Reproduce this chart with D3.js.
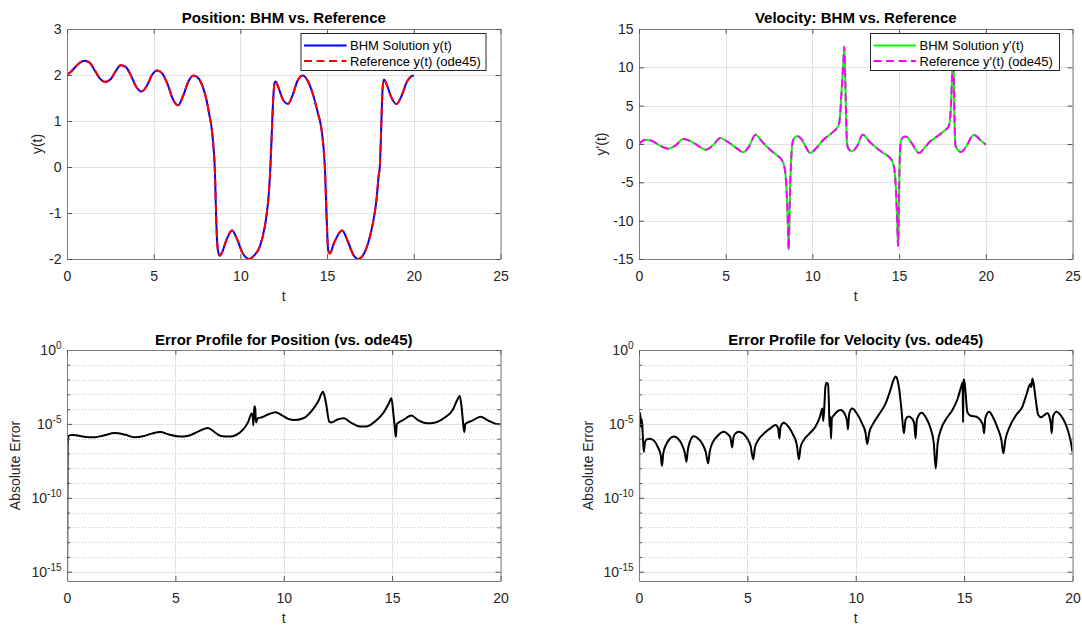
<!DOCTYPE html>
<html>
<head>
<meta charset="utf-8">
<script src="https://cdn.jsdelivr.net/npm/d3@7"></script>
<style>
body { margin: 0; background: #fff; }
svg text { font-family: "Liberation Sans", Arial, Helvetica, sans-serif; }
</style>
</head>
<body>
<svg id="chart" width="1082" height="626"></svg>
<script>
// ---- data ----
// position y(t) (BHM and ode45 overlap at this scale)
var posT = [0, 0.25, 0.5, 0.75, 1.0, 1.3, 1.6, 1.9, 2.2, 2.5, 2.8, 3.1, 3.4, 3.7, 4.0, 4.3, 4.6, 4.9, 5.2, 5.5,
	5.8, 6.1, 6.4, 6.7, 7.0, 7.3, 7.6, 7.85, 8.05, 8.2, 8.33, 8.46, 8.52, 8.56, 8.6, 8.7, 8.81, 8.95, 9.2, 9.52,
	9.8, 10.1, 10.5, 10.8, 11.12, 11.41, 11.5, 11.64, 11.73, 11.81, 11.89, 11.97, 12.03, 12.2, 12.45, 12.75, 13.0, 13.3, 13.6, 13.9,
	14.2, 14.45, 14.68, 14.8, 14.87, 14.97, 15.06, 15.16, 15.4, 15.87, 16.2, 16.5, 16.79, 17.1, 17.47, 17.7, 17.85, 17.97, 18.04, 18.1,
	18.14, 18.2, 18.27, 18.45, 18.7, 19.0, 19.3, 19.6, 19.85, 20.0];
var posY = [2.00, 2.08, 2.18, 2.27, 2.31, 2.27, 2.10, 1.92, 1.85, 1.90, 2.08, 2.21, 2.17, 1.98, 1.74, 1.64, 1.76, 2.00, 2.10, 2.03,
	1.80, 1.48, 1.34, 1.55, 1.86, 1.99, 1.92, 1.72, 1.45, 1.15, 0.88, 0.38, 0.0, -0.49, -1.07, -1.80, -1.93, -1.85, -1.58, -1.38,
	-1.56, -1.85, -2.00, -1.92, -1.73, -1.29, -1.07, -0.57, 0.0, 0.74, 1.46, 1.83, 1.86, 1.72, 1.47, 1.37, 1.55, 1.88, 1.99, 1.86,
	1.56, 1.20, 0.81, 0.40, 0.0, -1.07, -1.80, -1.88, -1.65, -1.38, -1.62, -1.90, -2.00, -1.90, -1.51, -1.10, -0.71, -0.20, 0.01, 0.60,
	1.10, 1.70, 1.90, 1.78, 1.52, 1.37, 1.55, 1.85, 1.97, 1.99];

// velocity y'(t)
var velT = [0, 0.2, 0.44, 0.8, 1.2, 1.69, 2.1, 2.56, 3.0, 3.4, 3.87, 4.3, 4.68, 5.1, 5.6, 6.02, 6.35, 6.72, 7.1, 7.56,
	8.0, 8.22, 8.35, 8.45, 8.52, 8.58, 8.63, 8.67, 8.71, 8.76, 8.85, 9.0, 9.15, 9.35, 9.6, 9.87, 10.2, 10.64, 11.0, 11.22,
	11.45, 11.55, 11.62, 11.7, 11.78, 11.84, 11.9, 11.95, 12.0, 12.1, 12.28, 12.6, 12.9, 13.3, 13.7, 14.1, 14.49, 14.65, 14.74, 14.82,
	14.89, 14.94, 14.98, 15.02, 15.08, 15.2, 15.39, 15.7, 16.15, 16.5, 16.8, 17.2, 17.57, 17.86, 17.95, 18.0, 18.06, 18.11, 18.16, 18.2,
	18.26, 18.57, 18.9, 19.3, 19.65, 20.0];
var velY = [0.0, 0.4, 0.56, 0.35, -0.2, -0.61, -0.2, 0.65, 0.35, -0.2, -0.74, -0.1, 0.78, 0.3, -0.5, -1.09, -0.3, 1.22, 0.3, -0.74,
	-1.55, -2.05, -2.7, -4.0, -6.5, -10.0, -13.8, -10.5, -6.0, -2.9, 0.13, 0.9, 1.0, 0.7, -0.3, -1.17, -0.6, 0.56, 1.2, 1.65,
	2.2, 2.8, 4.5, 7.5, 10.5, 12.7, 8.0, 3.0, 0.0, -0.7, -0.96, -0.2, 1.22, 0.3, -0.52, -1.2, -1.83, -2.5, -3.5, -6.0,
	-10.0, -13.3, -9.0, -3.5, 0.0, 0.8, 0.99, 0.2, -1.17, -0.4, 0.35, 1.0, 1.65, 2.3, 3.5, 5.5, 9.0, 12.5, 8.0, 2.5,
	-0.3, -1.04, -0.2, 1.22, 0.6, -0.1];

// log10 of absolute position error
var posErrT = [0, 0.03, 0.06, 0.15, 0.3, 0.6, 1.0, 1.3, 1.7, 2.2, 2.7, 3.1, 3.5, 3.9, 4.3, 4.7, 5.2, 5.6, 6.0, 6.5,
	6.8, 7.1, 7.5, 7.8, 8.1, 8.35, 8.52, 8.57, 8.6, 8.64, 8.68, 8.72, 8.8, 9.0, 9.3, 9.63, 9.9, 10.2, 10.5, 10.9,
	11.3, 11.6, 11.81, 11.95, 12.1, 12.2, 12.45, 12.77, 13.1, 13.5, 13.8, 14.2, 14.6, 14.85, 14.97, 15.05, 15.12, 15.17, 15.22, 15.5,
	15.89, 16.2, 16.6, 17.0, 17.4, 17.8, 18.0, 18.12, 18.2, 18.28, 18.33, 18.38, 18.7, 19.08, 19.4, 19.75, 20.0];
var posErrExp = [-17, -6.5, -5.85, -5.76, -5.75, -5.82, -5.9, -5.9, -5.78, -5.62, -5.74, -5.9, -5.84, -5.66, -5.55, -5.72, -5.86, -5.8, -5.56, -5.27,
	-5.55, -5.82, -5.86, -5.75, -5.42, -4.9, -4.3, -4.55, -5.1, -3.8, -3.9, -4.9, -4.62, -4.55, -4.35, -4.22, -4.4, -4.66, -4.74, -4.62,
	-4.1, -3.45, -2.82, -3.6, -4.85, -4.9, -4.72, -4.62, -4.92, -5.17, -5.18, -4.85, -4.25, -3.6, -3.27, -4.2, -5.2, -5.87, -5.0, -4.75,
	-4.44, -4.75, -4.96, -4.9, -4.6, -4.05, -3.4, -3.11, -3.8, -5.0, -5.55, -5.0, -4.78, -4.51, -4.75, -4.98, -5.03];

// log10 of absolute velocity error
var velErrT = [0, 0.01, 0.04, 0.07, 0.1, 0.13, 0.17, 0.22, 0.27, 0.35, 0.5, 0.7, 0.88, 1.0, 1.06, 1.12, 1.25, 1.4, 1.6, 1.8,
	1.98, 2.12, 2.19, 2.25, 2.35, 2.52, 2.7, 2.9, 3.08, 3.19, 3.26, 3.4, 3.6, 3.91, 4.1, 4.22, 4.3, 4.36, 4.45, 4.6,
	4.8, 5.0, 5.15, 5.27, 5.35, 5.5, 5.8, 6.1, 6.3, 6.42, 6.48, 6.53, 6.68, 6.9, 7.1, 7.28, 7.38, 7.45, 7.6, 7.9,
	8.14, 8.35, 8.46, 8.5, 8.55, 8.6, 8.65, 8.72, 8.76, 8.79, 8.82, 8.86, 8.9, 9.0, 9.15, 9.3, 9.5, 9.6, 9.64, 9.7,
	9.84, 10.05, 10.3, 10.45, 10.53, 10.62, 10.8, 11.1, 11.38, 11.6, 11.75, 11.84, 11.92, 12.0, 12.12, 12.22, 12.3, 12.45, 12.6, 12.7,
	12.76, 12.82, 13.04, 13.25, 13.45, 13.6, 13.69, 13.78, 13.95, 14.2, 14.46, 14.7, 14.88, 14.93, 14.95, 14.97, 15.0, 15.05, 15.15, 15.3,
	15.55, 15.75, 15.87, 15.92, 15.98, 16.15, 16.35, 16.55, 16.72, 16.81, 16.9, 17.1, 17.4, 17.69, 17.9, 18.05, 18.1, 18.15, 18.22, 18.3,
	18.42, 18.55, 18.7, 18.84, 18.95, 19.0, 19.04, 19.1, 19.26, 19.45, 19.65, 19.8, 19.92, 20.0];
var velErrExp = [-17, -4.3, -4.25, -4.6, -5.2, -4.7, -5.6, -6.9, -6.3, -6.05, -6.0, -6.15, -6.6, -7.1, -7.85, -7.0, -6.4, -6.05, -5.86, -6.0,
	-6.4, -7.0, -7.56, -6.8, -6.2, -5.84, -5.95, -6.3, -6.9, -7.67, -6.9, -6.25, -5.85, -5.53, -5.7, -5.95, -6.59, -5.9, -5.65, -5.53,
	-5.65, -6.0, -6.5, -7.4, -6.6, -6.1, -5.6, -5.25, -5.07, -5.3, -5.98, -5.2, -4.92, -5.2, -5.7, -6.4, -7.4, -6.6, -6.1, -5.6,
	-5.19, -4.5, -3.95, -4.8, -3.8, -2.5, -2.21, -2.3, -3.5, -5.19, -4.5, -6.0, -4.6, -4.4, -4.15, -4.06, -4.35, -4.8, -5.37, -4.3,
	-3.95, -4.3, -5.0, -5.6, -6.36, -5.6, -5.0, -4.3, -3.61, -2.7, -2.0, -1.8, -2.0, -2.6, -4.2, -5.64, -4.7, -4.5, -4.65, -5.0,
	-5.98, -4.7, -4.24, -4.6, -5.3, -6.3, -8.01, -6.3, -5.3, -4.6, -4.06, -3.3, -2.4, -2.2, -4.9, -2.1, -2.0, -2.6, -4.2, -4.45,
	-4.5, -4.75, -5.1, -5.64, -4.6, -4.17, -4.6, -5.3, -6.1, -6.99, -6.1, -5.2, -4.4, -3.83, -2.9, -2.3, -2.5, -1.92, -2.4, -3.3,
	-4.4, -4.55, -4.4, -4.28, -4.6, -5.0, -5.64, -4.5, -4.17, -4.4, -4.9, -5.5, -6.2, -6.9];

// ticks and labels
var xTicksTop = [0, 5, 10, 15, 20, 25];
var xTicksBottom = [0, 5, 10, 15, 20];
var yTicksPos = [-2, -1, 0, 1, 2, 3];
var yTicksVel = [-15, -10, -5, 0, 5, 10, 15];
var logMajor = [1e-15, 1e-10, 1e-5, 1];
var logMinor = [1e-14, 1e-13, 1e-12, 1e-11, 1e-9, 1e-8, 1e-7, 1e-6, 1e-4, 1e-3, 1e-2, 1e-1];
var posLegend = ["BHM Solution y(t)", "Reference y(t) (ode45)"];
var velLegend = ["BHM Solution y'(t)", "Reference y'(t) (ode45)"];

var svg = d3.select("#chart");
var boxColor = "#808080";
var textColor = "#262626";

function panel(o) {
	var g = svg.append("g").attr("transform", `translate(${o.x},${o.y})`);
	var xScale = d3.scaleLinear().domain(o.xDomain).range([0, o.w]);
	var yScale = (o.log ? d3.scaleLog() : d3.scaleLinear()).domain(o.yDomain).range([o.h, 0]);

	g.append("clipPath").attr("id", "clip" + o.id)
		.append("rect").attr("width", o.w).attr("height", o.h);

	// minor grid (log panels)
	if (o.minor) {
		g.selectAll(".mgrid").data(o.minor).enter().append("line")
			.attr("x1", 0).attr("x2", o.w)
			.attr("y1", d => Math.round(yScale(d)) + 0.5).attr("y2", d => Math.round(yScale(d)) + 0.5)
			.attr("stroke", "#c4c4c4").attr("stroke-width", 1).attr("stroke-dasharray", "1,2");
	}
	// major grid
	g.selectAll(".gx").data(o.xTicks).enter().append("line")
		.attr("x1", d => Math.round(xScale(d)) + 0.5).attr("x2", d => Math.round(xScale(d)) + 0.5)
		.attr("y1", 0).attr("y2", o.h)
		.attr("stroke", "#e3e3e3");
	g.selectAll(".gy").data(o.yTicks).enter().append("line")
		.attr("x1", 0).attr("x2", o.w)
		.attr("y1", d => Math.round(yScale(d)) + 0.5).attr("y2", d => Math.round(yScale(d)) + 0.5)
		.attr("stroke", "#e3e3e3");

	// data lines
	o.series.forEach(function (s) {
		var line = d3.line()
			.x(d => xScale(d[0]))
			.y(d => yScale(o.log ? Math.pow(10, d[1]) : d[1]))
			.curve(d3.curveMonotoneX);
		g.append("path")
			.datum(d3.zip(s.t, s.v))
			.attr("clip-path", `url(#clip${o.id})`)
			.attr("fill", "none")
			.attr("stroke", s.color)
			.attr("stroke-width", s.width || 2)
			.attr("stroke-dasharray", s.dash || null)
			.attr("stroke-linejoin", "round")
			.attr("d", line);
	});

	// axes, ticks pointing inward on all four sides
	var xAxis = d3.axisBottom(xScale).tickValues(o.xTicks).tickSize(-5).tickSizeOuter(0).tickPadding(12.5)
		.tickFormat(d => d);
	var yAxis = d3.axisLeft(yScale).tickValues(o.yTicks).tickSize(-5).tickSizeOuter(0).tickPadding(5.5)
		.tickFormat(d => o.log ? "" : d);

	var gx = g.append("g").attr("transform", `translate(0,${o.h})`).call(xAxis);
	var gy = g.append("g").call(yAxis);
	var gt = g.append("g").call(d3.axisTop(xScale).tickValues(o.xTicks).tickSize(-5).tickSizeOuter(0).tickFormat(""));
	var gr = g.append("g").attr("transform", `translate(${o.w},0)`)
		.call(d3.axisRight(yScale).tickValues(o.yTicks).tickSize(-5).tickSizeOuter(0).tickFormat(""));

	if (o.minor) {
		g.append("g").call(d3.axisLeft(yScale).tickValues(o.minor).tickSize(-3).tickSizeOuter(0).tickFormat(""))
			.call(a => a.select(".domain").remove());
		g.append("g").attr("transform", `translate(${o.w},0)`)
			.call(d3.axisRight(yScale).tickValues(o.minor).tickSize(-3).tickSizeOuter(0).tickFormat(""))
			.call(a => a.select(".domain").remove());
	}

	[gx, gy, gt, gr].forEach(function (a) {
		a.attr("font-size", 14).attr("font-family", null);
		a.select(".domain").attr("stroke", boxColor);
		a.selectAll(".tick text").attr("fill", textColor);
	});
	g.selectAll(".tick line").attr("stroke", "#555");

	if (o.log) {
		gy.selectAll(".tick text")
			.each(function (d) {
				var t = d3.select(this);
				t.append("tspan").text("10");
				t.append("tspan").attr("dy", "-0.55em").attr("font-size", 10)
					.text(Math.round(Math.log10(d)));
			});
	}

	// title and labels
	g.append("text")
		.attr("x", o.w / 2).attr("y", o.titleY)
		.attr("text-anchor", "middle")
		.attr("font-size", 15).attr("font-weight", "bold")
		.attr("fill", "#000")
		.text(o.title);
	g.append("text")
		.attr("x", o.w / 2).attr("y", o.h + o.xLabelDy)
		.attr("text-anchor", "middle")
		.attr("font-size", 14).attr("fill", textColor)
		.text(o.xLabel);
	g.append("text")
		.attr("transform", `translate(${o.yLabelDx},${o.h / 2}) rotate(-90)`)
		.attr("text-anchor", "middle")
		.attr("font-size", 14).attr("fill", textColor)
		.text(o.yLabel);

	// legend
	if (o.legend) {
		var lg = g.append("g").attr("transform", `translate(${o.legend.x},${o.legend.y})`);
		lg.append("rect")
			.attr("x", 0.5).attr("y", 0.5)
			.attr("width", o.legend.w).attr("height", 37)
			.attr("fill", "#fff").attr("stroke", "#262626").attr("stroke-width", 1);
		o.legend.items.forEach(function (it, i) {
			var cy = 12.5 + i * 15.5;
			lg.append("line")
				.attr("x1", 3.5).attr("x2", 46)
				.attr("y1", cy).attr("y2", cy)
				.attr("stroke", it.color).attr("stroke-width", 2)
				.attr("stroke-dasharray", it.dash || null);
			lg.append("text")
				.attr("x", 49.5).attr("y", cy + 4.6)
				.attr("font-size", 13).attr("fill", "#000")
				.text(it.label);
		});
	}
}

var topH = 230, botH = 231, plotW = 433.5;

panel({
	id: "a", x: 67, y: 29, w: plotW, h: topH,
	xDomain: [0, 25], yDomain: [-2, 3], xTicks: xTicksTop, yTicks: yTicksPos,
	title: "Position: BHM vs. Reference", titleY: -6.5,
	xLabel: "t", xLabelDy: 42, yLabel: "y(t)", yLabelDx: -25,
	series: [
		{ t: posT, v: posY, color: "#0000ff" },
		{ t: posT, v: posY, color: "#ff0000", dash: "8,4.5" }
	],
	legend: { x: 233.5, y: 4, w: 185, items: [
		{ label: posLegend[0], color: "#0000ff" },
		{ label: posLegend[1], color: "#ff0000", dash: "8,4.5" }
	] }
});

panel({
	id: "b", x: 639, y: 29, w: plotW, h: topH,
	xDomain: [0, 25], yDomain: [-15, 15], xTicks: xTicksTop, yTicks: yTicksVel,
	title: "Velocity: BHM vs. Reference", titleY: -6.5,
	xLabel: "t", xLabelDy: 42, yLabel: "y'(t)", yLabelDx: -33.5,
	series: [
		{ t: velT, v: velY, color: "#00ff00" },
		{ t: velT, v: velY, color: "#ff00ff", dash: "8,4.5" }
	],
	legend: { x: 231, y: 4, w: 189, items: [
		{ label: velLegend[0], color: "#00ff00" },
		{ label: velLegend[1], color: "#ff00ff", dash: "8,4.5" }
	] }
});

panel({
	id: "c", x: 67, y: 350, w: plotW, h: botH, log: true,
	xDomain: [0, 20], yDomain: [Math.pow(10, -15.63), 1], xTicks: xTicksBottom, yTicks: logMajor, minor: logMinor,
	title: "Error Profile for Position (vs. ode45)", titleY: -5.5,
	xLabel: "t", xLabelDy: 42, yLabel: "Absolute Error", yLabelDx: -47,
	series: [{ t: posErrT, v: posErrExp, color: "#000" }]
});

panel({
	id: "d", x: 639, y: 350, w: plotW, h: botH, log: true,
	xDomain: [0, 20], yDomain: [Math.pow(10, -15.63), 1], xTicks: xTicksBottom, yTicks: logMajor, minor: logMinor,
	title: "Error Profile for Velocity (vs. ode45)", titleY: -5.5,
	xLabel: "t", xLabelDy: 42, yLabel: "Absolute Error", yLabelDx: -46.5,
	series: [{ t: velErrT, v: velErrExp, color: "#000" }]
});
</script>
</body>
</html>
